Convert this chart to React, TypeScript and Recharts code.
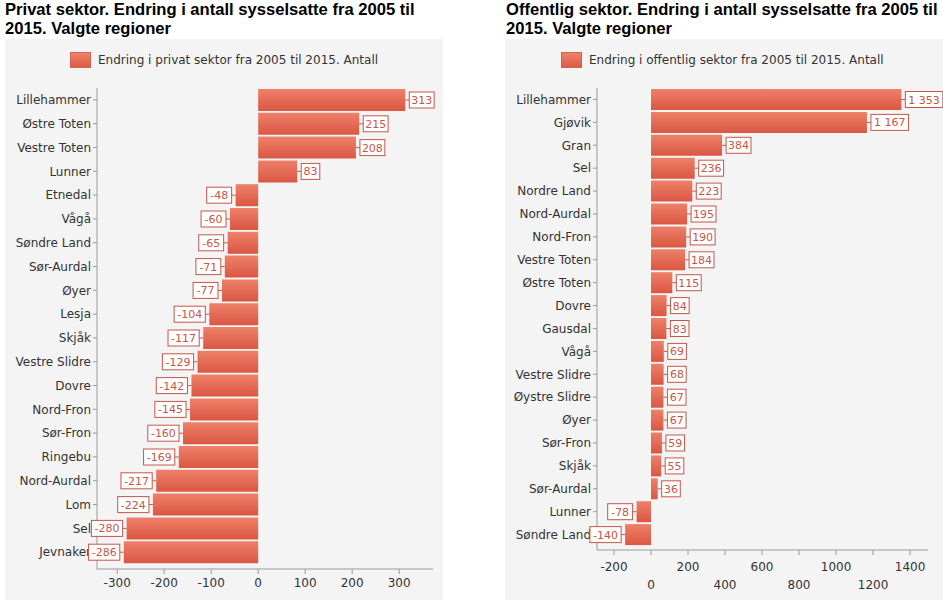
import React from "react"
import { BarChart, Bar, XAxis, YAxis, LabelList } from "recharts"

const privatRegions = [
  "Lillehammer", "Østre Toten", "Vestre Toten", "Lunner", "Etnedal", "Vågå", "Søndre Land",
  "Sør-Aurdal", "Øyer", "Lesja", "Skjåk", "Vestre Slidre", "Dovre", "Nord-Fron", "Sør-Fron",
  "Ringebu", "Nord-Aurdal", "Lom", "Sel", "Jevnaker",
]
const privatValues = [313, 215, 208, 83, -48, -60, -65, -71, -77, -104, -117, -129, -142, -145, -160, -169, -217, -224, -280, -286]
const privatTicks = [-300, -200, -100, 0, 100, 200, 300]

const offentligRegions = [
  "Lillehammer", "Gjøvik", "Gran", "Sel", "Nordre Land", "Nord-Aurdal", "Nord-Fron", "Vestre Toten",
  "Østre Toten", "Dovre", "Gausdal", "Vågå", "Vestre Slidre", "Øystre Slidre", "Øyer", "Sør-Fron",
  "Skjåk", "Sør-Aurdal", "Lunner", "Søndre Land",
]
const offentligValues = [1353, 1167, 384, 236, 223, 195, 190, 184, 115, 84, 83, 69, 68, 67, 67, 59, 55, 36, -78, -140]
const offentligTicks = [-200, 0, 200, 400, 600, 800, 1000, 1200, 1400]

const privatData = privatRegions.map((name, i) => ({ name, value: privatValues[i] }))
const offentligData = offentligRegions.map((name, i) => ({ name, value: offentligValues[i] }))

const FONT = "'DejaVu Sans', sans-serif"
const RED = "#c4574a"
const AXIS = "#9a9a9a"

const fmt = (v: number) => {
  const s = Math.abs(v).toString().replace(/\B(?=(\d{3})+(?!\d))/g, " ")
  return v < 0 ? "-" + s : s
}

function ValueLabel(props: any) {
  const { x, y, width, height, value } = props
  const text = fmt(value)
  const w = text.length * 6.3 + 6
  const h = 16
  const cy = y + height / 2
  const end = value >= 0 ? Math.max(x, x + width) : Math.min(x, x + width)
  const bx = value >= 0 ? end + 4 : end - 4 - w
  return (
    <g>
      <line x1={end} x2={value >= 0 ? end + 4 : end - 4} y1={cy} y2={cy} stroke={RED} />
      <rect x={bx} y={cy - h / 2} width={w} height={h} fill="#fff" stroke={RED} />
      <text x={bx + w / 2} y={cy + 4} textAnchor="middle" fontSize={11} fontFamily={FONT} fill={RED}>
        {text}
      </text>
    </g>
  )
}

function AltTick(props: any) {
  const { x, y, payload, index } = props
  return (
    <text x={x} y={y + (index % 2 === 0 ? 14 : 32)} textAnchor="middle" fontSize={12} fontFamily={FONT} fill="#333">
      {payload.value}
    </text>
  )
}

function Legend({ text, left }: { text: string; left: number }) {
  return (
    <div style={{ position: "absolute", top: 13, left, display: "flex", alignItems: "center", fontFamily: FONT, fontSize: 12, color: "#333", whiteSpace: "nowrap" }}>
      <div style={{ width: 21, height: 16, background: "linear-gradient(#ef836d, #dc5a45)", border: "1px solid #d8604c", boxSizing: "border-box", marginRight: 7 }} />
      {text}
    </div>
  )
}

function Title({ left, lines }: { left: number; lines: string[] }) {
  return (
    <div style={{ position: "absolute", left, top: 0, fontFamily: "'Liberation Sans', Arial, sans-serif", fontWeight: "bold", fontSize: 16.6, lineHeight: "19px", color: "#000", whiteSpace: "nowrap" }}>
      {lines.map((l) => (
        <div key={l}>{l}</div>
      ))}
    </div>
  )
}

function Gradient({ id }: { id: string }) {
  return (
    <defs>
      <linearGradient id={id} x1="0" y1="0" x2="0" y2="1">
        <stop offset="0%" stopColor="#ee806a" />
        <stop offset="100%" stopColor="#da5742" />
      </linearGradient>
    </defs>
  )
}

export default function App() {
  return (
    <div style={{ position: "absolute", left: 0, top: 0, width: 943, height: 604, background: "#fff", overflow: "hidden" }}>
      <Title left={5} lines={["Privat sektor. Endring i antall sysselsatte fra 2005 til", "2015. Valgte regioner"]} />
      <Title left={506} lines={["Offentlig sektor. Endring i antall sysselsatte fra 2005 til", "2015. Valgte regioner"]} />

      <div style={{ position: "absolute", left: 5, top: 39, width: 438, height: 561, background: "#f4f4f4" }}>
        <Legend text="Endring i privat sektor fra 2005 til 2015. Antall" left={65} />
        <BarChart
          width={438}
          height={561}
          data={privatData}
          layout="vertical"
          barCategoryGap={1}
          margin={{ top: 49, right: 10, bottom: 1, left: 0 }}
        >
          <Gradient id="gradL" />
          <XAxis
            type="number"
            domain={[-343, 372]}
            ticks={privatTicks}
            allowDataOverflow
            height={30}
            stroke={AXIS}
            tickSize={5}
            tick={{ fontSize: 12, fontFamily: FONT, fill: "#333", dy: 2 }}
          />
          <YAxis
            type="category"
            dataKey="name"
            width={92}
            padding={{ top: 0, bottom: 5 }}
            stroke={AXIS}
            tickSize={4}
            interval={0}
            tick={{ fontSize: 12, fontFamily: FONT, fill: "#333" }}
          />
          <Bar dataKey="value" fill="url(#gradL)" isAnimationActive={false}>
            <LabelList dataKey="value" content={ValueLabel} />
          </Bar>
        </BarChart>
      </div>

      <div style={{ position: "absolute", left: 505, top: 39, width: 438, height: 561, background: "#f4f4f4" }}>
        <Legend text="Endring i offentlig sektor fra 2005 til 2015. Antall" left={56} />
        <BarChart
          width={438}
          height={561}
          data={offentligData}
          layout="vertical"
          barCategoryGap={1}
          margin={{ top: 49, right: 15, bottom: 1, left: 0 }}
        >
          <Gradient id="gradR" />
          <XAxis
            type="number"
            domain={[-292, 1497]}
            ticks={offentligTicks}
            allowDataOverflow
            height={49}
            stroke={AXIS}
            tickSize={5}
            tick={AltTick}
          />
          <YAxis
            type="category"
            dataKey="name"
            width={92}
            padding={{ top: 0, bottom: 4 }}
            stroke={AXIS}
            tickSize={4}
            interval={0}
            tick={{ fontSize: 12, fontFamily: FONT, fill: "#333" }}
          />
          <Bar dataKey="value" fill="url(#gradR)" isAnimationActive={false}>
            <LabelList dataKey="value" content={ValueLabel} />
          </Bar>
        </BarChart>
      </div>
    </div>
  )
}
